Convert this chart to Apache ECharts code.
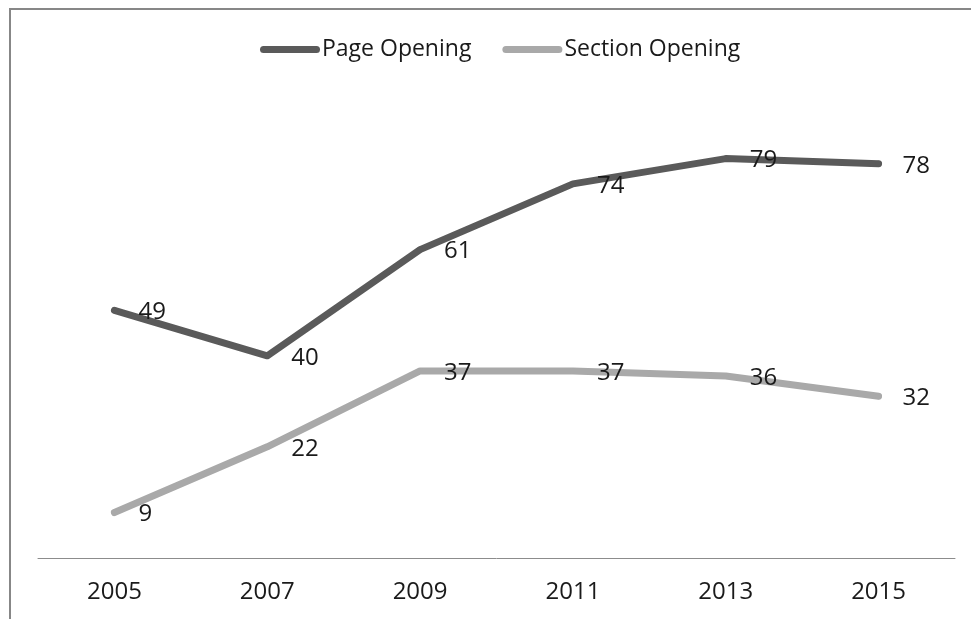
<!DOCTYPE html>
<html>
<head>
<meta charset="utf-8">
<script src="https://cdn.jsdelivr.net/npm/echarts@6/dist/echarts.min.js"></script>
<style>
  html, body { margin: 0; padding: 0; background: #ffffff; }
  #chart { width: 971px; height: 619px; }
</style>
</head>
<body>
<div id="chart"></div>
<script>
// Survey years on the category axis
const years = ['2005', '2007', '2009', '2011', '2013', '2015'];

// Share of respondents for each opening style
const pageOpening = [49, 40, 61, 74, 79, 78];
const sectionOpening = [9, 22, 37, 37, 36, 32];

const seriesNames = ['Page Opening', 'Section Opening'];
const seriesColors = ['#5a5a5a', '#a9a9a9'];

const FONT = '"Open Sans", "Liberation Sans", sans-serif';

// Thick rounded bar used as the legend key
const pillIcon = 'path://M3.5,0 H56.5 A3.5,3.5 0 0 1 56.5,7 H3.5 A3.5,3.5 0 0 1 3.5,0 Z';

function lineSeries(name, data, color) {
  return {
    name: name,
    type: 'line',
    data: data,
    symbol: 'circle',
    symbolSize: 6,
    showSymbol: true,
    smooth: false,
    lineStyle: { color: color, width: 7, cap: 'round', join: 'round' },
    itemStyle: { color: color, borderWidth: 0 },
    label: {
      show: true,
      position: 'right',
      distance: 21,
      offset: [0, 2],
      color: '#1a1a1a',
      fontFamily: FONT,
      fontSize: 24
    },
    emphasis: { disabled: true }
  };
}

const chart = echarts.init(document.getElementById('chart'), null, { renderer: 'canvas' });

chart.setOption({
  backgroundColor: '#ffffff',
  animation: false,
  graphic: [{
    type: 'rect',
    shape: { x: 10, y: 9, width: 990, height: 640 },
    style: { fill: 'none', stroke: '#878787', lineWidth: 2 },
    silent: true
  }],
  legend: {
    top: 33,
    left: 255,
    itemWidth: 62,
    itemHeight: 7,
    itemGap: 31,
    icon: pillIcon,
    data: seriesNames.map((n, i) => ({ name: n, itemStyle: { color: seriesColors[i] } })),
    textStyle: { fontFamily: FONT, fontSize: 23, color: '#1a1a1a', padding: [0, 0, 0, -4] }
  },
  grid: { left: 38, right: 16, top: 103, bottom: 61, containLabel: false },
  xAxis: {
    type: 'category',
    data: years,
    boundaryGap: true,
    axisLine: { show: true, lineStyle: { color: '#8c8c8c', width: 1 } },
    axisTick: { show: false },
    axisLabel: { fontFamily: FONT, fontSize: 24, color: '#1a1a1a', margin: 22 },
    splitLine: { show: false }
  },
  yAxis: {
    type: 'value',
    min: 0,
    max: 90,
    show: false,
    splitLine: { show: false }
  },
  series: [
    lineSeries(seriesNames[0], pageOpening, seriesColors[0]),
    lineSeries(seriesNames[1], sectionOpening, seriesColors[1])
  ]
});
</script>
</body>
</html>
